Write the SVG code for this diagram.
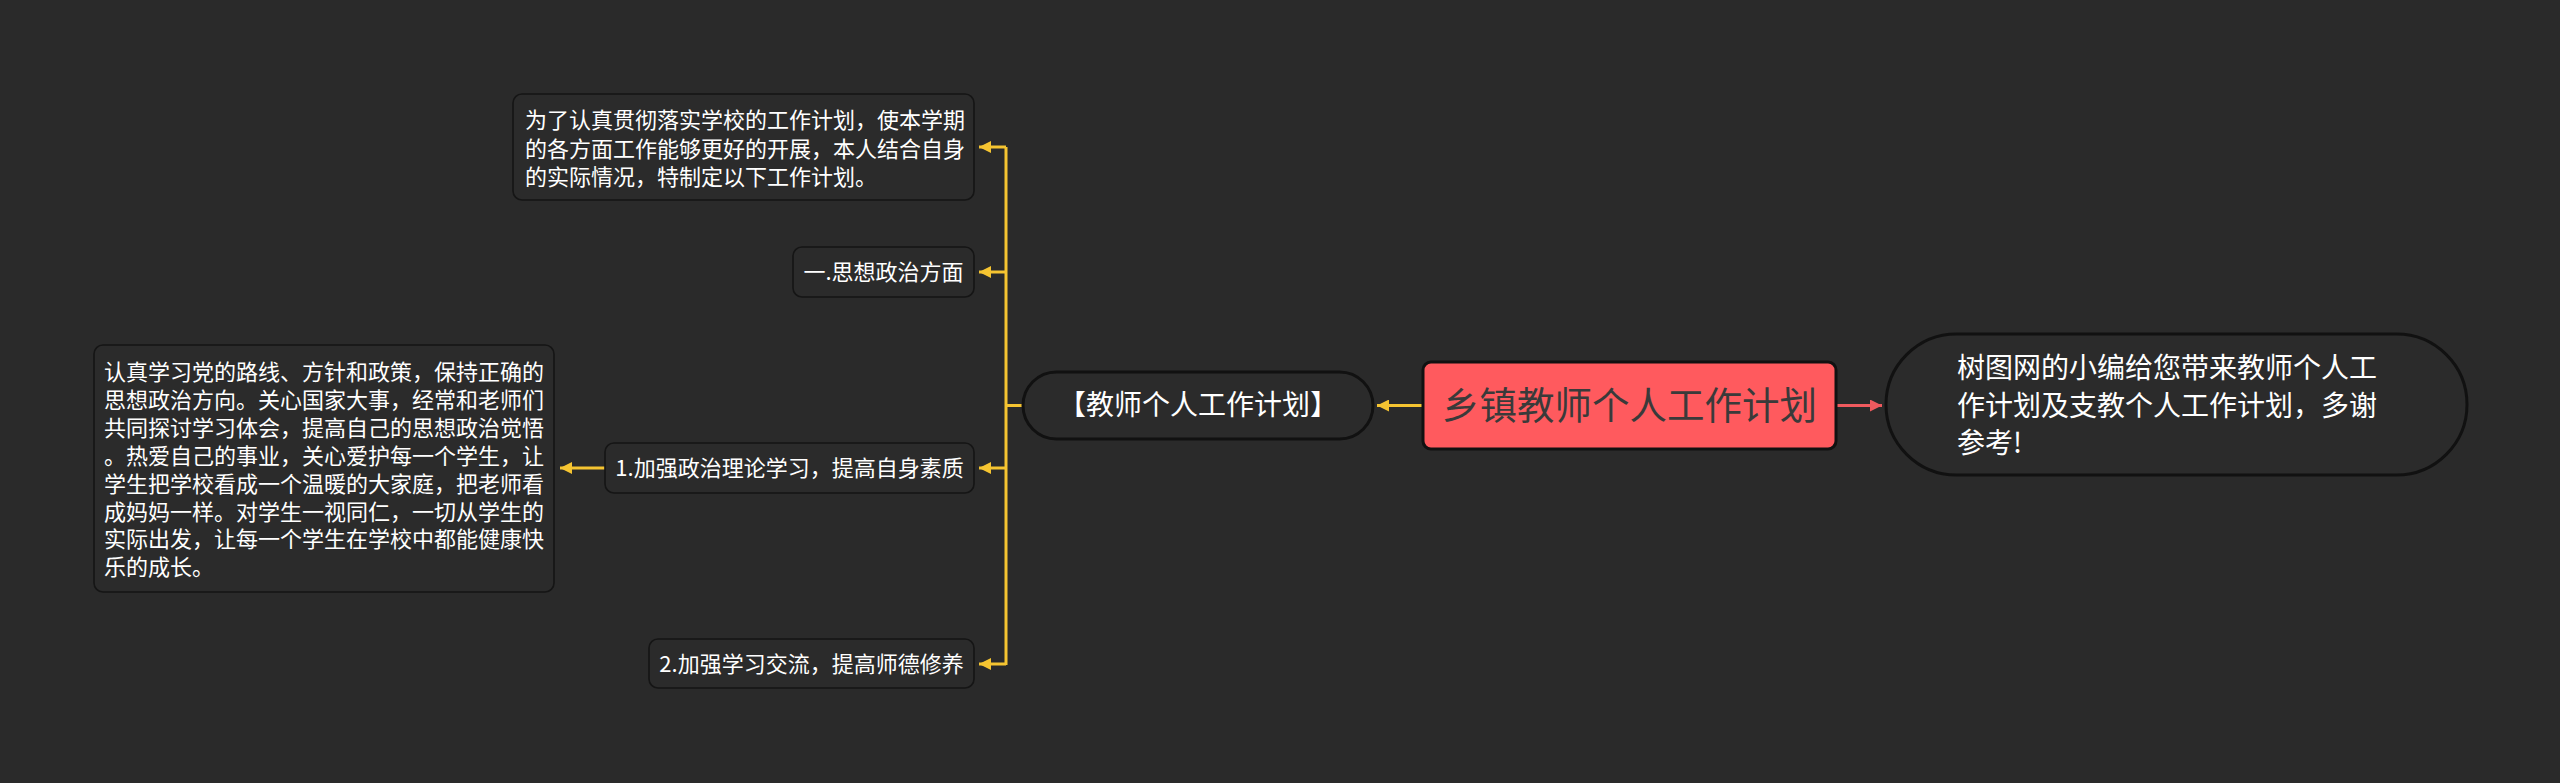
<svg xmlns="http://www.w3.org/2000/svg" width="2560" height="783" viewBox="0 0 2560 783">
<defs>
<style>
.bg{fill:#2a2a2a}
.box{fill:#2b2b2b;stroke:#151515;stroke-width:1.6}
.pill{fill:#2b2b2b;stroke:#111;stroke-width:3}
.main{fill:#ff5a5e;stroke:#111;stroke-width:3}
.t{font-family:"Noto Sans CJK SC","Noto Sans",sans-serif;fill:#ffffff}
.t22{font-size:22px}
.t28{font-size:28px}
.tm{font-size:37.5px;fill:#3a3a3a}
.y{stroke:#f5c431;stroke-width:3;fill:none}
.r{stroke:#f05a5e;stroke-width:3;fill:none}
</style>
<marker id="ay" markerUnits="userSpaceOnUse" markerWidth="12" markerHeight="12" viewBox="0 0 10 10" refX="10" refY="5" orient="auto">
<path d="M0,0 L10,5 L0,10 z" fill="#f5c431"/>
</marker>
<marker id="ar" markerUnits="userSpaceOnUse" markerWidth="12" markerHeight="12" viewBox="0 0 10 10" refX="10" refY="5" orient="auto">
<path d="M0,0 L10,5 L0,10 z" fill="#f05a5e"/>
</marker>
</defs>
<rect class="bg" x="0" y="0" width="2560" height="783"/>
<g id="connectors">
<path class="y" d="M1423,405.5 L1377,405.5" marker-end="url(#ay)"/>
<path class="r" d="M1836,405.5 L1882,405.5" marker-end="url(#ar)"/>
<path class="y" d="M1023,405.5 L1006,405.5"/>
<path class="y" d="M1006,147 L1006,665"/>
<path class="y" d="M1006,147 L979,147" marker-end="url(#ay)"/>
<path class="y" d="M1006,272 L979,272" marker-end="url(#ay)"/>
<path class="y" d="M1006,468 L979,468" marker-end="url(#ay)"/>
<path class="y" d="M1006,664 L979,664" marker-end="url(#ay)"/>
<path class="y" d="M605,468 L560,468" marker-end="url(#ay)"/>
</g>
<g id="node-main">
<rect class="main" x="1423" y="362" width="413" height="87" rx="8"/>
<text class="t tm" x="1629.5" y="418.5" text-anchor="middle">乡镇教师个人工作计划</text>
</g>
<g id="node-right">
<rect class="pill" x="1886" y="334" width="581" height="141" rx="70.5"/>
<text class="t t28" x="1957" y="378">树图网的小编给您带来教师个人工</text>
<text class="t t28" x="1957" y="415.5">作计划及支教个人工作计划，多谢</text>
<text class="t t28" x="1957" y="453">参考!</text>
</g>
<g id="node-plan">
<rect class="pill" x="1023" y="372" width="350" height="67" rx="33.5"/>
<text class="t t28" x="1198" y="415" text-anchor="middle">【教师个人工作计划】</text>
</g>
<g id="node-intro">
<rect class="box" x="513" y="94" width="461" height="106" rx="9"/>
<text class="t t22" x="525" y="128">为了认真贯彻落实学校的工作计划，使本学期</text>
<text class="t t22" x="525" y="156.5">的各方面工作能够更好的开展，本人结合自身</text>
<text class="t t22" x="525" y="185">的实际情况，特制定以下工作计划。</text>
</g>
<g id="node-sx">
<rect class="box" x="793" y="247" width="181" height="50" rx="9"/>
<text class="t t22" x="883.5" y="280" text-anchor="middle">一.思想政治方面</text>
</g>
<g id="node-1">
<rect class="box" x="605" y="443" width="369" height="50" rx="9"/>
<text class="t t22" x="789.5" y="476" text-anchor="middle">1.加强政治理论学习，提高自身素质</text>
</g>
<g id="node-1-detail">
<rect class="box" x="94" y="345" width="460" height="247" rx="9"/>
<text class="t t22" x="104" y="380">认真学习党的路线、方针和政策，保持正确的</text>
<text class="t t22" x="104" y="408">思想政治方向。关心国家大事，经常和老师们</text>
<text class="t t22" x="104" y="436">共同探讨学习体会，提高自己的思想政治觉悟</text>
<text class="t t22" x="104" y="464">。热爱自己的事业，关心爱护每一个学生，让</text>
<text class="t t22" x="104" y="492">学生把学校看成一个温暖的大家庭，把老师看</text>
<text class="t t22" x="104" y="520">成妈妈一样。对学生一视同仁，一切从学生的</text>
<text class="t t22" x="104" y="547">实际出发，让每一个学生在学校中都能健康快</text>
<text class="t t22" x="104" y="575">乐的成长。</text>
</g>
<g id="node-2">
<rect class="box" x="649" y="639" width="325" height="49" rx="9"/>
<text class="t t22" x="811.5" y="671.5" text-anchor="middle">2.加强学习交流，提高师德修养</text>
</g>
</svg>
